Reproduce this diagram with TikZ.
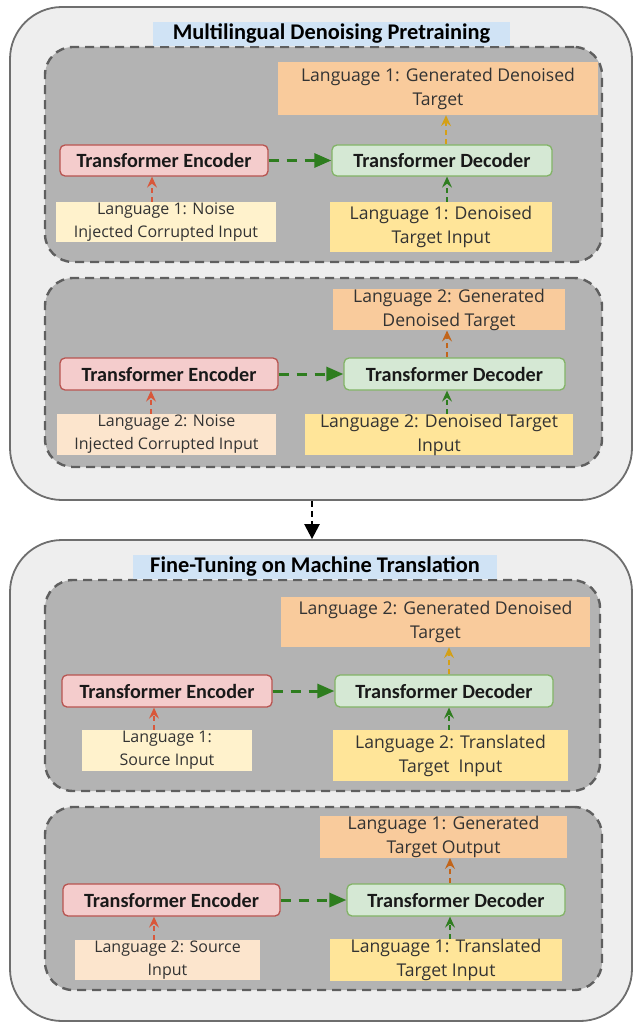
\documentclass[tikz,border=0pt]{standalone}
\usepackage{fontspec}
\setmainfont{Open Sans}
\newfontfamily\calibri{Carlito}
\usetikzlibrary{arrows.meta}

\definecolor{stagefill}{HTML}{EEEEEE}
\definecolor{stageline}{HTML}{6E6E6E}
\definecolor{phasefill}{HTML}{B3B3B3}
\definecolor{phaseline}{HTML}{5F5F5F}
\definecolor{capfill}{HTML}{D0E3F5}
\definecolor{encfill}{HTML}{F4CCCC}
\definecolor{encline}{HTML}{B85450}
\definecolor{decfill}{HTML}{D5E8D4}
\definecolor{decline}{HTML}{82B366}
\definecolor{outfill}{HTML}{F9CB9C}
\definecolor{srcA}{HTML}{FFF2CC}
\definecolor{srcB}{HTML}{FCE5CD}
\definecolor{tgtfill}{HTML}{FFE599}
\definecolor{redarrow}{HTML}{D9573A}
\definecolor{greenarrow}{HTML}{2E7D1F}
\definecolor{goldarrow}{HTML}{D4A017}
\definecolor{brownarrow}{HTML}{C2651A}
\definecolor{inktext}{HTML}{333333}

\begin{document}
\begin{tikzpicture}[x=1pt, y=-1pt,
	stage/.style={draw=stageline, fill=stagefill, line width=1.8pt, rounded corners=52pt, inner sep=0},
	phase/.style={draw=phaseline, fill=phasefill, line width=2.4pt, dash pattern=on 9pt off 6pt, rounded corners=28pt, inner sep=0},
	caption/.style={fill=capfill, inner sep=0, minimum height=24pt, text=black, font=\calibri\bfseries\fontsize{22.4}{24}\selectfont},
	block/.style={rounded corners=5pt, line width=1.3pt, inner sep=0, minimum height=31pt, text=black!90, font=\calibri\bfseries\fontsize{20.2}{24}\selectfont},
	enc/.style={block, draw=encline, fill=encfill},
	dec/.style={block, draw=decline, fill=decfill},
	txt/.style={inner sep=0, align=center, text=inktext, font=\fontsize{17.6}{24}\selectfont},
	gen/.style={txt, fill=outfill},
	tgt/.style={txt, fill=tgtfill},
	src/.style={txt, font=\fontsize{16}{23}\selectfont},
	thin arrow/.style={line width=1.2pt, dash pattern=on 5pt off 4pt, -{Stealth[length=11pt, width=10pt, inset=4pt]}},
	link/.style={draw=greenarrow, line width=3pt, dash pattern=on 10pt off 8pt, -{Triangle[length=17pt, width=14pt]}}
	]
	\useasboundingbox (0,0) rectangle (633,1024);

	% the two stages
	\node[stage, minimum width=622, minimum height=493] (stage1) at (321,253.5) {};
	\node[stage, minimum width=622, minimum height=481] (stage2) at (321,780.5) {};

	\node[phase, minimum width=557, minimum height=215] (phase1) at (323.5,154.5) {};
	\node[phase, minimum width=557, minimum height=189] (phase2) at (323.5,372.5) {};
	\node[phase, minimum width=555, minimum height=211] (phase3) at (322.5,685.5) {};
	\node[phase, minimum width=557, minimum height=183] (phase4) at (323.5,898.5) {};

	\node[caption, minimum width=357] (cap1) at (331.5,34) {Multilingual Denoising Pretraining};
	\node[caption, minimum width=364] (cap2) at (315,567) {Fine-Tuning on Machine Translation};

	% denoising, language 1
	\node[gen, minimum width=320, minimum height=53] (out1) at (438,88.5) {Language 1: Generated Denoised\\Target};
	\node[enc, minimum width=208] (enc1) at (164,160.5) {Transformer Encoder};
	\node[dec, minimum width=220] (dec1) at (442,160.5) {Transformer Decoder};
	\node[src, fill=srcA, minimum width=220, minimum height=40] (in1) at (166,222) {Language 1: Noise\\Injected Corrupted Input};
	\node[tgt, minimum width=222, minimum height=50] (tg1) at (441,227) {Language 1: Denoised\\Target Input};

	% denoising, language 2
	\node[gen, minimum width=232, minimum height=41] (out2) at (449,309.5) {Language 2: Generated\\Denoised Target};
	\node[enc, minimum width=218, minimum height=32] (enc2) at (169,374) {Transformer Encoder};
	\node[dec, minimum width=221, minimum height=32] (dec2) at (454.5,374) {Transformer Decoder};
	\node[src, fill=srcB, minimum width=219, minimum height=41] (in2) at (166.5,434.5) {Language 2: Noise\\Injected Corrupted Input};
	\node[tgt, minimum width=268, minimum height=41] (tg2) at (439,434.5) {Language 2: Denoised Target\\Input};

	% translation, 1 -> 2
	\node[gen, minimum width=309, minimum height=50] (out3) at (435.5,622) {Language 2: Generated Denoised\\Target};
	\node[enc, minimum width=210, minimum height=32] (enc3) at (167,691) {Transformer Encoder};
	\node[dec, minimum width=218, minimum height=32] (dec3) at (444,691) {Transformer Decoder};
	\node[src, fill=srcA, minimum width=170, minimum height=41] (in3) at (167,750.5) {Language 1:\\Source Input};
	\node[tgt, minimum width=235, minimum height=51] (tg3) at (450.5,755.5) {Language 2: Translated\\Target\ \ Input};

	% translation, 2 -> 1
	\node[gen, minimum width=247, minimum height=40] (out4) at (443.5,837) {Language 1: Generated\\Target Output};
	\node[enc, minimum width=217, minimum height=32] (enc4) at (171.5,900) {Transformer Encoder};
	\node[dec, minimum width=218, minimum height=32] (dec4) at (456,900) {Transformer Decoder};
	\node[src, fill=srcB, minimum width=185, minimum height=40] (in4) at (167.5,960) {Language 2: Source\\Input};
	\node[tgt, minimum width=232, minimum height=40] (tg4) at (446,960) {Language 1: Translated\\Target Input};

	\path[thin arrow]
		([xshift=-14]in1.north) edge[redarrow] ([xshift=-12]enc1.south) % noisy input in
		([xshift=6]tg1.north) edge[greenarrow] ([xshift=5]dec1.south)
		([xshift=4]dec1.north) edge[goldarrow] ([xshift=8]out1.south)
		([xshift=-15.5]in2.north) edge[redarrow] ([xshift=-18]enc2.south)
		([xshift=8]tg2.north) edge[greenarrow] ([xshift=-7.5]dec2.south)
		([xshift=-7.5]dec2.north) edge[brownarrow] ([xshift=-2]out2.south)
		([xshift=-13]in3.north) edge[redarrow] ([xshift=-13]enc3.south) % source in
		([xshift=-1.5]tg3.north) edge[greenarrow] ([xshift=5]dec3.south)
		([xshift=5]dec3.north) edge[goldarrow] ([xshift=13.5]out3.south)
		([xshift=-13.5]in4.north) edge[redarrow] ([xshift=-17.5]enc4.south)
		([xshift=4]tg4.north) edge[greenarrow] ([xshift=-6]dec4.south)
		([xshift=-6]dec4.north) edge[brownarrow] ([xshift=6.5]out4.south)
		;
	\path
		(enc1) edge[link] (dec1) % encoder to decoder
		(enc2) edge[link] (dec2)
		(enc3) edge[link] (dec3)
		(enc4) edge[link] (dec4)
		;
	\draw[line width=2.4pt, dash pattern=on 6pt off 4pt, -{Triangle[length=15pt, width=15pt]}]
		([xshift=-9]stage1.south) -- ([xshift=-9]stage2.north); % pretrain, then fine-tune
\end{tikzpicture}
\end{document}
